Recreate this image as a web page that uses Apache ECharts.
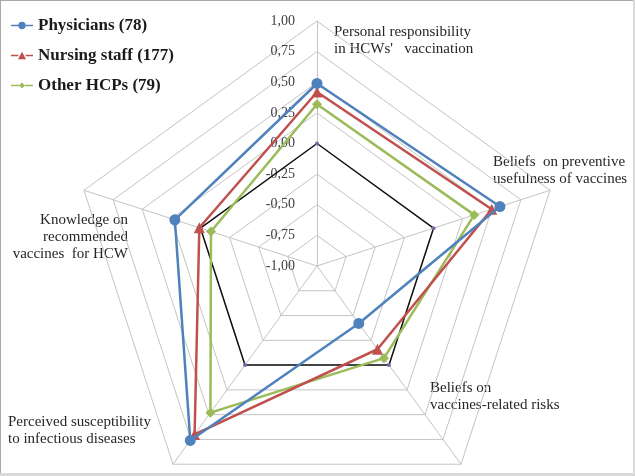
<!DOCTYPE html>
<html>
<head>
<meta charset="utf-8">
<script src="https://cdn.jsdelivr.net/npm/echarts@6/dist/echarts.min.js"></script>
<style>
  html, body { margin: 0; padding: 0; background: #d9d9d9; }
  #frame { position: absolute; left: 0; top: 0; width: 632px; height: 472px; background: #fff; border-top: 1px solid #a8a8a8; border-left: 1px solid #a8a8a8; }
  #chart { width: 632px; height: 472px; }
</style>
</head>
<body>
<div id="frame"><div id="chart"></div></div>
<script>
// Indicators in ECharts order (counter-clockwise from top)
const indicatorNames = [
  "Personal responsibility\nin HCWs'   vaccination",
  "Knowledge on\nrecommended\nvaccines  for HCW",
  "Perceived susceptibility\nto infectious diseases",
  "Beliefs on\nvaccines-related risks",
  "Beliefs  on preventive\nusefulness of vaccines"
];
const seriesNames = ["Physicians (78)", "Nursing staff (177)", "Other HCPs (79)"];
const physicians = [0.49, 0.22, 0.76, -0.42, 0.57];
const nursing    = [0.42, 0.01, 0.70, -0.16, 0.50];
const others     = [0.32, -0.09, 0.48, -0.07, 0.35];
const zeroLine   = [0, 0, 0, 0, 0];
const axisMin = -1, axisMax = 1, axisSplits = 8;

const colors = ['#4F81BD', '#C0504D', '#9BBB59'];
const serif = '"Liberation Serif", "Times New Roman", serif';

const chart = echarts.init(document.getElementById('chart'), null, { renderer: 'canvas' });

const iconCircle = 'path://M0,4 H10 V6 H0 Z M20,4 H30 V6 H20 Z M15,0 A5,5 0 1,1 15,10 A5,5 0 1,1 15,0 Z';
const iconTri = 'path://M0,4 H10 V6 H0 Z M20,4 H30 V6 H20 Z M15,0 L20.5,10 L9.5,10 Z';
const iconDia = 'path://M0,4 H11 V6 H0 Z M19,4 H30 V6 H19 Z M15,1 L19,5 L15,9 L11,5 Z';

// label anchor positions for indicator names
const namePos = [
  { x: 333, y: 23, align: 'left' },
  { x: 127, y: 211, align: 'right' },
  { x: 7, y: 413, align: 'left' },
  { x: 429, y: 379, align: 'left' },
  { x: 492, y: 153, align: 'left' }
];

const option = {
  animation: false,
  backgroundColor: '#fff',
  legend: {
    orient: 'vertical',
    left: 5,
    top: 11,
    itemWidth: 22,
    itemHeight: 8,
    itemGap: 13,
    textStyle: { fontFamily: serif, fontWeight: 'bold', fontSize: 17, color: '#1a1a1a' },
    data: [
      { name: seriesNames[0], icon: iconCircle },
      { name: seriesNames[1], icon: iconTri },
      { name: seriesNames[2], icon: iconDia }
    ]
  },
  radar: {
    center: [316, 265],
    radius: 245,
    shape: 'polygon',
    splitNumber: axisSplits,
    startAngle: 90,
    axisName: { show: false },
    axisLine: { lineStyle: { color: '#c4c4c4', width: 1 } },
    splitLine: { lineStyle: { color: '#c4c4c4', width: 1 } },
    splitArea: { show: false },
    axisTick: { show: false },
    axisLabel: { show: false },
    indicator: indicatorNames.map((n, i) => {
      const ind = { name: n, min: axisMin, max: axisMax };
      if (i === 0) {
        ind.axisLabel = {
          show: true,
          fontFamily: serif,
          fontSize: 14,
          color: '#404040',
          align: 'right',
          padding: [0, 14, 0, 0],
          formatter: v => (Math.round(v * 100) / 100).toFixed(2).replace('.', ',')
        };
      }
      return ind;
    })
  },
  series: [
    {
      type: 'radar',
      name: 'zero',
      z: 1,
      symbol: 'circle',
      symbolSize: 4,
      itemStyle: { color: '#7F65A8' },
      lineStyle: { color: '#111', width: 1.5 },
      data: [{ value: zeroLine, name: 'zero' }]
    },
    {
      type: 'radar',
      name: seriesNames[2],
      z: 2,
      symbol: 'diamond',
      symbolSize: 10,
      itemStyle: { color: colors[2] },
      lineStyle: { color: colors[2], width: 2.5 },
      data: [{ value: others, name: seriesNames[2] }]
    },
    {
      type: 'radar',
      name: seriesNames[1],
      z: 3,
      symbol: 'triangle',
      symbolSize: 11,
      itemStyle: { color: colors[1] },
      lineStyle: { color: colors[1], width: 2.5 },
      data: [{ value: nursing, name: seriesNames[1] }]
    },
    {
      type: 'radar',
      name: seriesNames[0],
      z: 4,
      symbol: 'circle',
      symbolSize: 11,
      itemStyle: { color: colors[0] },
      lineStyle: { color: colors[0], width: 2.5 },
      data: [{ value: physicians, name: seriesNames[0] }]
    }
  ],
  graphic: indicatorNames.map((n, i) => ({
    type: 'text',
    x: namePos[i].x,
    y: namePos[i].y,
    style: {
      text: n,
      fontFamily: serif,
      fontSize: 15,
      lineHeight: 17,
      fill: '#262626',
      align: namePos[i].align,
      verticalAlign: 'top'
    }
  }))
};
chart.setOption(option);
</script>
</body>
</html>
